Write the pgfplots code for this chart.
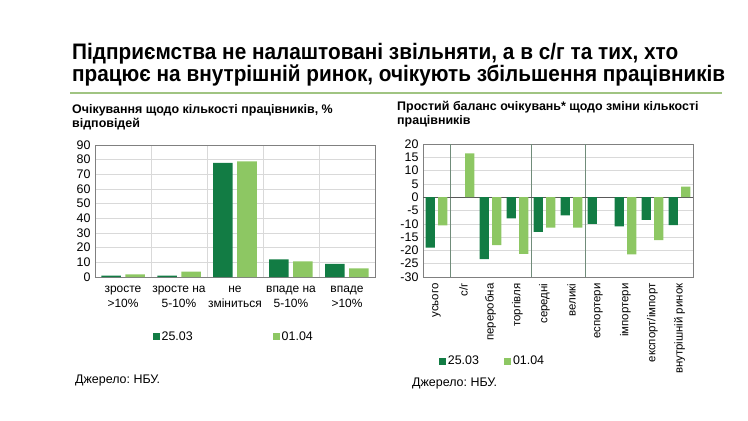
\documentclass[border=0pt]{standalone}
\usepackage{pgfplots}
\pgfplotsset{compat=1.18}
\usepackage{fontspec}
\setmainfont{Liberation Sans}
\usepackage{graphicx}
\frenchspacing

\definecolor{dk}{RGB}{18,124,68}
\definecolor{lt}{RGB}{141,199,99}
\definecolor{sepc}{RGB}{112,140,122}
\definecolor{rulec}{RGB}{160,196,130}
\definecolor{framec}{RGB}{128,128,128}
\definecolor{gridc}{RGB}{217,217,217}

\pgfplotsset{
  base/.style={
    scale only axis,
    anchor=south west,
    axis line style={framec},
    major tick length=0pt, minor tick length=0pt,
    tick style={draw=none},
    grid style={gridc, line width=0.6pt},
    minor grid style={gridc, line width=0.6pt},
    ymajorgrids,
    /pgf/number format/assume math mode=true,
    yticklabel style={font=\fontsize{12.5}{14}\selectfont, xshift=-1bp},
    legend style={draw=none, fill=none, inner sep=0pt, legend columns=-1,
      font=\fontsize{12.5}{14}\selectfont},
  },
}

\begin{document}
\begin{tikzpicture}
\useasboundingbox (0,0) rectangle (748bp,-421bp);

% title
\node[anchor=base west, inner sep=0] at (72bp,-59.5bp)
  {\resizebox{606bp}{\height}{\fontsize{22.5}{24}\selectfont\bfseries Підприємства не налаштовані звільняти, а в с/г та тих, хто}};
\node[anchor=base west, inner sep=0] at (72bp,-81.5bp)
  {\resizebox{653bp}{\height}{\fontsize{22.5}{24}\selectfont\bfseries працює на внутрішній ринок, очікують збільшення працівників}};
\draw[rulec, line width=2bp] (70bp,-92.7bp) -- (722bp,-92.7bp);

% subtitles
\node[anchor=base west, inner sep=0] at (72bp,-113.5bp)
  {\fontsize{12.5}{14}\selectfont\bfseries Очікування щодо кількості працівників, \%};
\node[anchor=base west, inner sep=0] at (72bp,-127.5bp)
  {\fontsize{12.5}{14}\selectfont\bfseries відповідей};
\node[anchor=base west, inner sep=0] at (397bp,-110bp)
  {\fontsize{12.5}{14}\selectfont\bfseries Простий баланс очікувань* щодо зміни кількості};
\node[anchor=base west, inner sep=0] at (397bp,-124bp)
  {\fontsize{12.5}{14}\selectfont\bfseries працівників};

% left chart
\begin{axis}[base,
  at={(95bp,-277bp)},
  width=280bp, height=132bp,
  xmin=-0.5, xmax=4.5, ymin=0, ymax=90,
  ytick={0,10,...,90},
  xtick={0,...,4},
  xticklabels={{зросте\\>10\%},{зросте на\\5-10\%},{не\\зміниться},{впаде на\\5-10\%},{впаде\\>10\%}},
  xticklabel style={align=center, yshift=-6bp, font=\fontsize{12}{15}\selectfont},
  minor xtick={0.5,1.5,2.5,3.5},
  xminorgrids,
  legend style={at={(0.205,-0.4545)}, anchor=west,
    /tikz/every even column/.append style={column sep=78bp}},
]
\addplot[ybar, bar width=19.5bp, bar shift=-12bp, fill=dk, draw=none,
  legend image code/.code={\fill[dk] (0bp,-3.5bp) rectangle (7bp,3.5bp);}]
  coordinates {(0,0.9) (1,0.9) (2,77.9) (3,12.1) (4,8.9)};
\addlegendentry{25.03}
\addplot[ybar, bar width=19.5bp, bar shift=12bp, fill=lt, draw=none,
  legend image code/.code={\fill[lt] (0bp,-3.5bp) rectangle (7bp,3.5bp);}]
  coordinates {(0,1.8) (1,3.6) (2,78.8) (3,10.7) (4,5.9)};
\addlegendentry{01.04}
\end{axis}

% right chart
\begin{axis}[base,
  at={(423bp,-277bp)},
  width=270bp, height=133bp,
  xmin=-0.5, xmax=9.5, ymin=-30, ymax=20,
  ytick={-30,-25,...,20},
  xtick={0,...,9},
  xticklabels={усього,с/г,переробна,торгівля,середні,великі,еспортери,імпортери,експорт/імпорт,внутрішній ринок},
  xticklabel style={yshift=-3bp, rotate=90, anchor=east, font=\fontsize{11.5}{14}\selectfont},
  extra x ticks={0.5,3.5,5.5},
  extra x tick labels={},
  extra x tick style={grid=major, major grid style={sepc, line width=0.8pt}},
  extra y ticks={0},
  extra y tick labels={},
  extra y tick style={grid=major, major grid style={black!65, line width=0.8pt}},
  legend style={at={(0.058,-0.632)}, anchor=west,
    /tikz/every even column/.append style={column sep=23bp}},
]
\addplot[ybar, bar width=9.3bp, bar shift=-6.2bp, fill=dk, draw=none,
  legend image code/.code={\fill[dk] (0bp,-3.5bp) rectangle (7bp,3.5bp);}]
  coordinates {(0,-19) (2,-23.3) (3,-8) (4,-13) (5,-6.8) (6,-10) (7,-11) (8,-8.5) (9,-10.5)};
\addlegendentry{25.03}
\addplot[ybar, bar width=9.3bp, bar shift=6.2bp, fill=lt, draw=none,
  legend image code/.code={\fill[lt] (0bp,-3.5bp) rectangle (7bp,3.5bp);}]
  coordinates {(0,-10.6) (1,16.5) (2,-18) (3,-21.3) (4,-11.4) (5,-11.4) (7,-21.5) (8,-16.1) (9,4)};
\addlegendentry{01.04}
\end{axis}

% sources
\node[anchor=west, inner sep=0, font=\fontsize{12.5}{14}\selectfont] at (75bp,-381bp) {Джерело: НБУ.};
\node[anchor=west, inner sep=0, font=\fontsize{12.5}{14}\selectfont] at (412bp,-384bp) {Джерело: НБУ.};
\end{tikzpicture}
\end{document}
